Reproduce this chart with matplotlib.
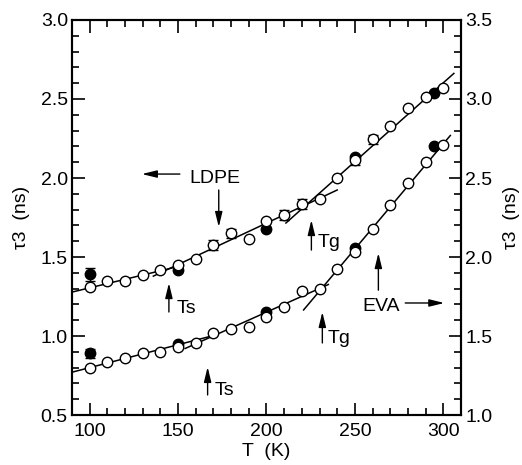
import matplotlib.pyplot as plt
from matplotlib.ticker import MultipleLocator

# temperature grid (K)
temps = [100, 110, 120, 130, 140, 150, 160, 170, 180, 190, 200,
         210, 220, 230, 240, 250, 260, 270, 280, 290, 300]

# LDPE, open circles, left axis (ns)
ldpe_tau = [1.31, 1.35, 1.35, 1.385, 1.42, 1.45, 1.49, 1.575, 1.65, 1.615, 1.73,
            1.765, 1.835, 1.865, 2.00, 2.115, 2.245, 2.33, 2.445, 2.51, 2.57]
ldpe_err = [0, 0, 0, 0, 0, 0, 0, 0.03, 0.03, 0, 0,
            0.03, 0.03, 0, 0, 0.03, 0.03, 0, 0, 0, 0]

# LDPE, filled circles
ldpe_fill_T = [100, 150, 200, 250, 295]
ldpe_fill_tau = [1.39, 1.42, 1.68, 2.13, 2.54]
ldpe_fill_err = [0.04, 0, 0, 0, 0]

# EVA, open circles, right axis (ns)
eva_tau = [1.30, 1.335, 1.36, 1.39, 1.40, 1.43, 1.455, 1.52, 1.545, 1.555, 1.62,
           1.685, 1.785, 1.80, 1.925, 2.03, 2.18, 2.33, 2.47, 2.60, 2.71]

# EVA, filled circles
eva_fill_T = [100, 150, 200, 250, 295]
eva_fill_tau = [1.39, 1.45, 1.65, 2.06, 2.70]
eva_fill_err = [0.03, 0, 0, 0, 0]

# straight-line fits: (T start, T end, tau start, tau end)
ldpe_fits = [(90, 153, 1.278, 1.448),
             (136, 240, 1.379, 1.924),
             (211, 306, 1.715, 2.662)]
eva_fits = [(90, 170, 1.271, 1.503),
            (154, 235, 1.421, 1.826),
            (221, 304, 1.665, 2.769)]

plt.rcParams['font.family'] = ['Liberation Sans', 'DejaVu Sans']
FS = 14

fig = plt.figure(figsize=(5.22, 4.65), dpi=100)
ax = fig.add_axes([0.138, 0.1075, 0.745, 0.8495])
ax2 = ax.twinx()

mk = dict(marker='o', markersize=7.5, markeredgewidth=1.0,
          markeredgecolor='black', linestyle='none', zorder=3)
eb = dict(ecolor='black', elinewidth=1.0, capsize=3.5, capthick=1.0)


def draw_set(a, fits, T, tau, err, fT, ftau, ferr):
    for t0, t1, y0, y1 in fits:
        a.plot([t0, t1], [y0, y1], color='black', lw=1.1, zorder=2)
    a.errorbar(fT, ftau, yerr=ferr, markerfacecolor='black', **mk, **eb)
    a.errorbar(T, tau, yerr=err, markerfacecolor='white', **mk, **eb)


draw_set(ax, ldpe_fits, temps, ldpe_tau, ldpe_err,
         ldpe_fill_T, ldpe_fill_tau, ldpe_fill_err)
draw_set(ax2, eva_fits, temps, eva_tau, [0] * len(temps),
         eva_fill_T, eva_fill_tau, eva_fill_err)

ax.set_xlim(90, 310)
ax.set_ylim(0.5, 3.0)
ax2.set_ylim(1.0, 3.5)

ax.xaxis.set_major_locator(MultipleLocator(50))
ax.xaxis.set_minor_locator(MultipleLocator(10))
for a in (ax, ax2):
    a.yaxis.set_major_locator(MultipleLocator(0.5))
    a.yaxis.set_minor_locator(MultipleLocator(0.1))
    a.yaxis.set_major_formatter('{x:.1f}')
    for s in a.spines.values():
        s.set_linewidth(1.5)

ax.tick_params(which='both', direction='in', top=True, right=False,
               labelsize=FS, width=1.2)
ax.tick_params(which='major', length=9)
ax.tick_params(which='minor', length=5)
ax.tick_params(axis='y', pad=3)
ax.tick_params(axis='x', pad=6)
ax2.tick_params(which='both', direction='in', labelsize=FS, width=1.2, pad=3)
ax2.tick_params(which='major', length=9)
ax2.tick_params(which='minor', length=5)

ax.set_xlabel('T  (K)', fontsize=FS, labelpad=2)
ax.set_ylabel('\u03c43  (ns)', fontsize=FS, labelpad=8)
ax2.set_ylabel('\u03c43  (ns)', fontsize=FS, labelpad=8, rotation=90)

arr = dict(arrowstyle='-|>,head_length=0.9,head_width=0.22',
           color='black', lw=1.0, shrinkA=0, shrinkB=0, mutation_scale=10)

# LDPE annotations (left axis)
ax.text(156.5, 1.968, 'LDPE', fontsize=FS, va='baseline')
ax.annotate('', xy=(129.5, 2.025), xytext=(151, 2.025), arrowprops=arr)
ax.annotate('', xy=(173, 1.69), xytext=(173, 1.924), arrowprops=arr)
ax.annotate('', xy=(144.8, 1.335), xytext=(144.8, 1.152), arrowprops=arr)
ax.text(149.2, 1.146, 'Ts', fontsize=FS, va='baseline')
ax.annotate('', xy=(225.4, 1.734), xytext=(225.4, 1.544), arrowprops=arr)
ax.text(228.8, 1.563, 'Tg', fontsize=FS, va='baseline')

# EVA annotations (right axis)
ax2.annotate('', xy=(166.7, 1.304), xytext=(166.7, 1.127), arrowprops=arr)
ax2.text(170.6, 1.127, 'Ts', fontsize=FS, va='baseline')
ax2.annotate('', xy=(231.6, 1.652), xytext=(231.6, 1.456), arrowprops=arr)
ax2.text(234.5, 1.456, 'Tg', fontsize=FS, va='baseline')
ax2.annotate('', xy=(263.3, 2.025), xytext=(263.3, 1.79), arrowprops=arr)
ax2.text(254.2, 1.658, 'EVA', fontsize=FS, va='baseline')
ax2.annotate('', xy=(300.6, 1.709), xytext=(278.5, 1.709), arrowprops=arr)

fig.savefig('out.png', dpi=100)
